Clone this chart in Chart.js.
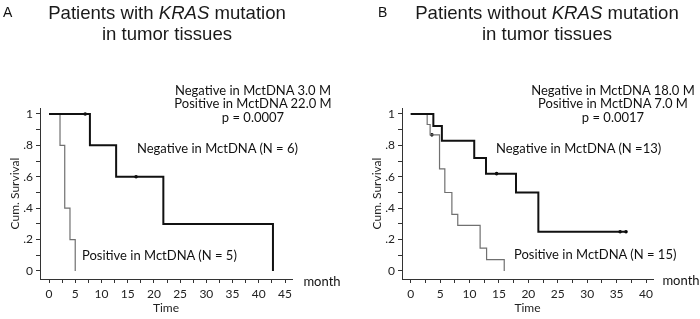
<!DOCTYPE html>
<html><head><meta charset="utf-8">
<script src="https://cdn.jsdelivr.net/npm/chart.js@4.4.1/dist/chart.umd.min.js"></script>
<style>
html,body{margin:0;padding:0;background:#fff;}
#wrap{position:relative;width:700px;height:319px;overflow:hidden;color:#111;font-family:Lato,'Open Sans',sans-serif;}
.panel{position:absolute;top:0;width:350px;height:319px;}
.t{position:absolute;white-space:nowrap;}
.c{transform:translate(-50%,-50%);line-height:1;}
.l{transform:translate(0,-50%);line-height:1;}
.title{font-family:'Liberation Sans',Arial,sans-serif;font-size:18.6px;line-height:21px;text-align:center;transform:translateX(-50%);color:#1a1a1a;}
.letter{font-family:'Liberation Sans',Arial,sans-serif;font-size:14px;line-height:14px;}
.stat{font-size:13px;}
.ann{font-size:13px;}
.month{font-size:13px;}
</style></head>
<body><div id="wrap">
<canvas id="cA" class="panel" style="left:0" width="350" height="319"></canvas>
<canvas id="cB" class="panel" style="left:350px" width="350" height="319"></canvas>
</div>
<script>
// ---------- data ----------
const panelLetters = ['A', 'B'];
const titleLine1 = ['Patients with <i>KRAS</i> mutation', 'Patients without <i>KRAS</i> mutation'];
const titleLine2 = ['in tumor tissues', 'in tumor tissues'];
const statsA = ['Negative in MctDNA 3.0 M', 'Positive in MctDNA 22.0 M', 'p = 0.0007'];
const statsB = ['Negative in MctDNA 18.0 M', 'Positive in MctDNA 7.0 M', 'p = 0.0017'];
const annA = ['Negative in MctDNA (N = 6)', 'Positive in MctDNA (N = 5)'];
const annB = ['Negative in MctDNA (N =13)', 'Positive in MctDNA (N = 15)'];
const yTickValues = [0, 0.1, 0.2, 0.3, 0.4, 0.5, 0.6, 0.7, 0.8, 0.9, 1];
const xTicksA = [0, 2.5, 5, 7.5, 10, 12.5, 15, 17.5, 20, 22.5, 25, 27.5, 30, 32.5, 35, 37.5, 40, 42.5, 45];
const xTicksB = [0, 2.5, 5, 7.5, 10, 12.5, 15, 17.5, 20, 22.5, 25, 27.5, 30, 32.5, 35, 37.5, 40];

// Panel A (with KRAS mutation)
const aNegTime = [0, 7.8, 12.8, 21.8, 42.7];
const aNegSurv = [1, 0.8, 0.6, 0.3, 0];
const aNegCensorTime = [6.9, 16.6];
const aNegCensorSurv = [1, 0.6];
const aPosTime = [0, 2.1, 3.0, 4.0, 5.0];
const aPosSurv = [1, 0.8, 0.4, 0.2, 0];

// Panel B (without KRAS mutation)
const bNegTime = [0, 3.85, 5.3, 10.8, 12.8, 17.9, 21.7, 36.6];
const bNegSurv = [1, 0.923, 0.83, 0.72, 0.62, 0.5, 0.25, 0.25];
const bNegCensorTime = [14.6, 35.6, 36.6];
const bNegCensorSurv = [0.62, 0.25, 0.25];
const bPosTime = [0, 2.8, 3.3, 4.9, 5.8, 7.0, 8.0, 11.8, 12.9, 15.9];
const bPosSurv = [1, 0.933, 0.867, 0.65, 0.5, 0.36, 0.29, 0.145, 0.072, 0];
const bPosCensorTime = [3.6];
const bPosCensorSurv = [0.867];

// ---------- helpers ----------
const wrap = document.getElementById('wrap');
function addText(html, cls, x, y) {
  const d = document.createElement('div');
  d.className = 't ' + cls;
  d.style.left = x + 'px';
  d.style.top = y + 'px';
  d.innerHTML = html;
  wrap.appendChild(d);
}
const pts = (xs, ys) => xs.map((x, i) => ({x: x, y: ys[i]}));
const tickFont = {family: 'Lato', size: 12};
const titleFont = {family: 'Lato', size: 12};

function makeChart(id, o) {
  return new Chart(document.getElementById(id), {
    type: 'line',
    data: {datasets: [
      {data: pts(o.negT, o.negS), stepped: true, borderColor: '#111', borderWidth: 2, pointRadius: 0, fill: false},
      {data: pts(o.posT, o.posS), stepped: true, borderColor: '#707070', borderWidth: 1.2, pointRadius: 0, fill: false},
      {data: pts(o.cenT, o.cenS), showLine: false, pointRadius: 1.8, pointBackgroundColor: '#000', pointBorderWidth: 0}
    ]},
    options: {
      responsive: false, animation: false, devicePixelRatio: 1,
      layout: {padding: {top: 108, right: o.padRight, left: 0, bottom: 0}},
      plugins: {legend: {display: false}, tooltip: {enabled: false}},
      scales: {
        x: {
          type: 'linear', min: o.xmin, max: o.xmax,
          afterFit: s => { s.height = 40; },
          afterBuildTicks: s => { s.ticks = o.xTicks.map(v => ({value: v})); },
          grid: {display: true, drawOnChartArea: false, drawTicks: true, tickLength: 4, color: '#333', lineWidth: 1},
          border: {display: true, color: '#333', width: 1},
          ticks: {autoSkip: false, maxRotation: 0, padding: 4, color: '#222', font: tickFont,
                  callback: v => (Math.abs(v % 5) < 1e-9 ? String(v) : '')},
          title: {display: true, text: 'Time', color: '#222', font: titleFont, padding: {top: 0, bottom: 3.8}}
        },
        y: {
          type: 'linear', min: -0.051, max: 1.038,
          afterFit: s => { s.width = o.yWidth; },
          afterBuildTicks: s => { s.ticks = yTickValues.map(v => ({value: v})); },
          grid: {display: true, drawOnChartArea: false, drawTicks: true, tickLength: 4, color: '#333', lineWidth: 1},
          border: {display: true, color: '#333', width: 1},
          ticks: {autoSkip: false, padding: 3, color: '#222', font: tickFont,
                  callback: v => {
                    const k = Math.round(v * 10);
                    if (k % 2 !== 0) return '';
                    if (k === 10) return '1';
                    if (k === 0) return '0';
                    return '.' + k;
                  }},
          title: {display: true, text: 'Cum. Survival', color: '#222', font: titleFont, padding: {top: o.yTitlePad, bottom: 0}}
        }
      }
    }
  });
}

makeChart('cA', {negT: aNegTime, negS: aNegSurv, posT: aPosTime, posS: aPosSurv,
  cenT: aNegCensorTime, cenS: aNegCensorSurv, xmin: -1.716, xmax: 46.33, xTicks: xTicksA,
  padRight: 58, yWidth: 40, yTitlePad: 7.8});
makeChart('cB', {negT: bNegTime, negS: bNegSurv, posT: bPosTime, posS: bPosSurv,
  cenT: bNegCensorTime.concat(bPosCensorTime), cenS: bNegCensorSurv.concat(bPosCensorSurv),
  xmin: -1.48, xmax: 41.19, xTicks: xTicksB, padRight: 47, yWidth: 52, yTitlePad: 19.8});

// ---------- texts ----------
addText(panelLetters[0], 'letter', 3, 4.9);
addText(panelLetters[1], 'letter', 378, 4.9);
addText(titleLine1[0] + '<br>' + titleLine2[0], 'title', 167, 1.5);
addText(titleLine1[1] + '<br>' + titleLine2[1], 'title', 547, 1.5);
const statY = [89.5, 103, 116.5];
statsA.forEach((s, i) => addText(s, 'stat c', 253, statY[i]));
statsB.forEach((s, i) => addText(s, 'stat c', 613, statY[i]));
addText(annA[0], 'ann l', 137, 148);
addText(annA[1], 'ann l', 82, 255);
addText(annB[0], 'ann l', 496, 148);
addText(annB[1], 'ann l', 514, 254);
addText('month', 'month c', 322, 281);
addText('month', 'month c', 681, 280);
</script>
</body></html>
